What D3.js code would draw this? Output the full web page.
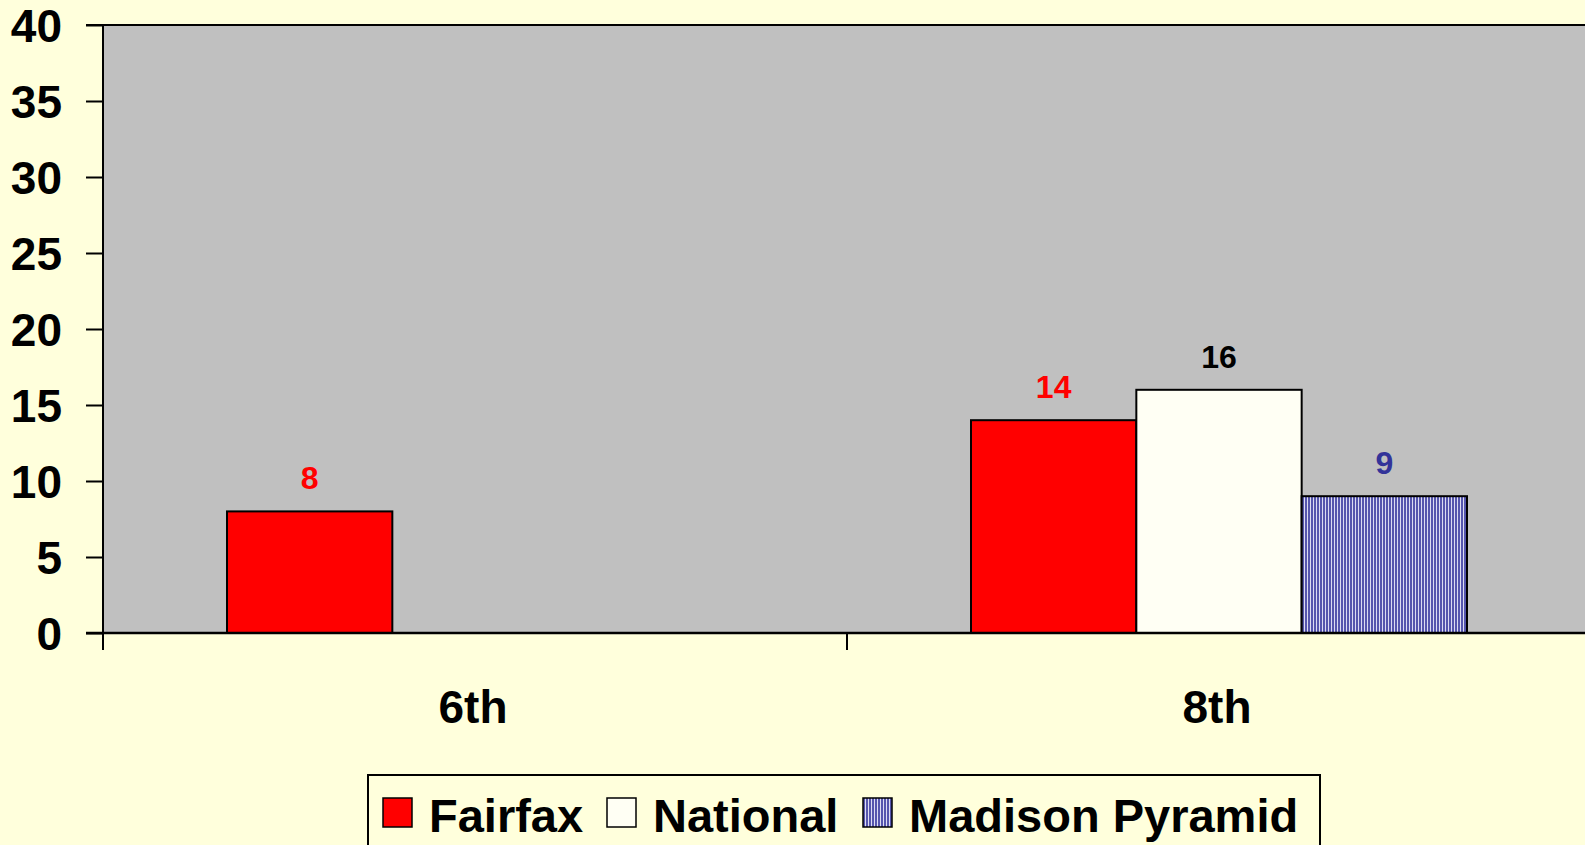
<!DOCTYPE html>
<html>
<head>
<meta charset="utf-8">
<script src="https://cdn.jsdelivr.net/npm/d3@7"></script>
<style>
  html, body { margin: 0; padding: 0; background: #ffffdc; overflow: hidden; }
  svg { display: block; }
  text { font-family: "Liberation Sans", Arial, sans-serif; font-weight: bold; }
</style>
</head>
<body>
<div id="chart"></div>
<script>
var w = 1585;
var h = 845;

// data
var categories = ["6th", "8th"];
var seriesNames = ["Fairfax", "National", "Madison Pyramid"];
var fairfax = [8, 14];
var national = [null, 16];
var madison = [null, 9];
var yTicks = [0, 5, 10, 15, 20, 25, 30, 35, 40];

var seriesValues = [fairfax, national, madison];
var fills = ["#ff0000", "#fffff4", "url(#stripes)"];
var labelColors = ["#ff0000", "#000000", "#333399"];

// plot area bounds (avoid window.top clash); right edge runs just past the window
var plotLeft = 103, plotTop = 25, plotBottom = 633, plotRight = 1591;

var svg = d3.select("#chart")
    .append("svg")
    .attr("width", w)
    .attr("height", h);

// vertical stripe pattern for Madison Pyramid
var defs = svg.append("defs");
var pat = defs.append("pattern")
    .attr("id", "stripes")
    .attr("patternUnits", "userSpaceOnUse")
    .attr("width", 3)
    .attr("height", 10);
pat.append("rect").attr("width", 3).attr("height", 10).attr("fill", "#dcdcf2");
pat.append("rect").attr("width", 2).attr("height", 10).attr("fill", "#5656ae");

var x0 = d3.scaleBand()
    .domain(categories)
    .range([plotLeft, plotRight])
    .padding(0);

var x1 = d3.scaleBand()
    .domain(seriesNames)
    .range([0, x0.bandwidth()])
    .paddingInner(0)
    .paddingOuter(0.75);

var y = d3.scaleLinear()
    .domain([0, 40])
    .range([plotBottom, plotTop]);

// plot area
svg.append("rect")
    .attr("x", plotLeft)
    .attr("y", plotTop)
    .attr("width", plotRight - plotLeft)
    .attr("height", plotBottom - plotTop)
    .attr("fill", "#c0c0c0");

// top border
svg.append("line")
    .attr("x1", 86).attr("x2", plotRight)
    .attr("y1", plotTop).attr("y2", plotTop)
    .attr("stroke", "#000").attr("stroke-width", 2);

// bars
var bars = [];
seriesNames.forEach(function (s, si) {
    categories.forEach(function (c, ci) {
        var v = seriesValues[si][ci];
        if (v != null) bars.push({ s: s, si: si, c: c, v: v });
    });
});

svg.selectAll("rect.bar")
    .data(bars)
    .enter()
    .append("rect")
    .attr("class", "bar")
    .attr("x", function (d) { return x0(d.c) + x1(d.s); })
    .attr("y", function (d) { return y(d.v); })
    .attr("width", x1.bandwidth())
    .attr("height", function (d) { return y(0) - y(d.v); })
    .attr("fill", function (d) { return fills[d.si]; })
    .attr("stroke", "#000")
    .attr("stroke-width", 2);

svg.selectAll("text.val")
    .data(bars)
    .enter()
    .append("text")
    .attr("class", "val")
    .attr("x", function (d) { return x0(d.c) + x1(d.s) + x1.bandwidth() / 2; })
    .attr("y", function (d) { return y(d.v) - 22; })
    .attr("text-anchor", "middle")
    .attr("font-size", 32)
    .attr("fill", function (d) { return labelColors[d.si]; })
    .text(function (d) { return d.v; });

// y axis
var yAxis = d3.axisLeft(y)
    .tickValues(yTicks)
    .tickSize(17)
    .tickPadding(24);
var ya = svg.append("g")
    .attr("transform", "translate(" + plotLeft + ",0)")
    .call(yAxis);
ya.select(".domain").remove();
ya.selectAll(".tick line").attr("stroke", "#000").attr("stroke-width", 2);
ya.selectAll(".tick text")
    .attr("font-size", 46)
    .attr("fill", "#000")
    .attr("dy", "0.36em")
    .style("font-family", "'Liberation Sans', Arial, sans-serif")
    .style("font-weight", "bold");

svg.append("line")
    .attr("x1", plotLeft).attr("x2", plotLeft)
    .attr("y1", plotTop).attr("y2", plotBottom + 17)
    .attr("stroke", "#000").attr("stroke-width", 2);

// x axis
svg.append("line")
    .attr("x1", 86).attr("x2", plotRight)
    .attr("y1", plotBottom).attr("y2", plotBottom)
    .attr("stroke", "#000").attr("stroke-width", 2.5);

svg.selectAll("line.xtick")
    .data(categories)
    .enter()
    .append("line")
    .attr("class", "xtick")
    .attr("x1", function (d) { return x0(d); })
    .attr("x2", function (d) { return x0(d); })
    .attr("y1", plotBottom)
    .attr("y2", plotBottom + 17)
    .attr("stroke", "#000").attr("stroke-width", 2);

svg.selectAll("text.cat")
    .data(categories)
    .enter()
    .append("text")
    .attr("class", "cat")
    .attr("x", function (d) { return x0(d) + x0.bandwidth() / 2 - 2; })
    .attr("y", 723)
    .attr("text-anchor", "middle")
    .attr("font-size", 46)
    .attr("fill", "#000")
    .text(function (d) { return d; });

// legend
svg.append("rect")
    .attr("x", 368).attr("y", 775)
    .attr("width", 952).attr("height", 90)
    .attr("fill", "#ffffdc")
    .attr("stroke", "#000").attr("stroke-width", 2);

var legendX = [383, 607, 863];
var lg = svg.selectAll("g.leg")
    .data(seriesNames)
    .enter()
    .append("g")
    .attr("class", "leg")
    .attr("transform", function (d, i) { return "translate(" + legendX[i] + ",0)"; });
lg.append("rect")
    .attr("x", 0).attr("y", 798)
    .attr("width", 29).attr("height", 29)
    .attr("fill", function (d, i) { return fills[i]; })
    .attr("stroke", "#000").attr("stroke-width", 1.5);
lg.append("text")
    .attr("x", 46).attr("y", 832)
    .attr("font-size", 47)
    .attr("fill", "#000")
    .text(function (d) { return d; });
</script>
</body>
</html>
